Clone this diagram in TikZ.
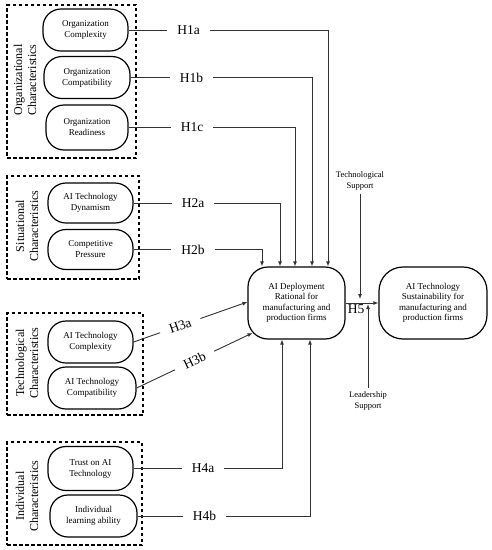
\documentclass[tikz,border=0pt]{standalone}
\usepackage{fontspec}
\setmainfont{Liberation Serif}
\usetikzlibrary{arrows.meta}

\begin{document}
\begin{tikzpicture}[x=1pt, y=-1pt, >={Latex[length=5pt,width=4pt]},
  factor/.style={draw=black, line width=1.2pt, rounded corners=18pt, minimum width=85pt, minimum height=42pt, align=center, inner sep=0pt, font=\fontsize{9}{11}\selectfont},
  outcome/.style={draw=black, line width=1.2pt, rounded corners=20pt, minimum width=97pt, minimum height=72pt, align=center, inner sep=0pt, font=\fontsize{9}{10.5}\selectfont},
  groupbox/.style={draw=black, line width=1.2pt, dash pattern=on 3.5pt off 2.5pt, inner sep=0pt},
  grouplabel/.style={rotate=90, align=center, font=\fontsize{12}{14}\selectfont},
  hyp/.style={text=black, inner xsep=10pt, inner ysep=1pt, font=\fontsize{13.5}{14}\selectfont},
  support/.style={align=center, font=\fontsize{8.5}{10.5}\selectfont},
  link/.style={line width=0.9pt, black!80}]
        \useasboundingbox (0,0) rectangle (492,550);

        \node[groupbox, minimum width=129pt, minimum height=153pt] (orgbox) at (71.5,81.5) {};
        \node[groupbox, minimum width=132pt, minimum height=103pt] (sitbox) at (73,227.5) {};
        \node[groupbox, minimum width=136pt, minimum height=102pt] (tecbox) at (75,364) {};
        \node[groupbox, minimum width=135pt, minimum height=103pt] (indbox) at (74.5,493.5) {};
        \node[grouplabel] (orglab) at (25,80) {Organizational\\Characteristics};
        \node[grouplabel] (sitlab) at (27,226) {Situational\\Characteristics};
        \node[grouplabel] (teclab) at (27,363) {Technological\\Characteristics};
        \node[grouplabel] (indlab) at (27,496) {Individual\\Characteristics};

        \node[factor] (orgcx) at (85.5,30) {Organization\\Complexity};
        \node[factor, minimum width=86pt] (orgcp) at (87,77.5) {Organization\\Compatibility};
        \node[factor, minimum width=82pt, minimum height=45pt] (orgrd) at (87,127.5) {Organization\\Readiness};
        \node[factor, minimum height=40pt] (aidyn) at (90.5,203) {AI Technology\\Dynamism};
        \node[factor, minimum height=40pt] (compp) at (90.5,249.5) {Competitive\\Pressure};
        \node[factor] (aicx) at (90.5,342) {AI Technology\\Complexity};
        \node[factor, minimum width=88pt] (aicp) at (92,388) {AI Technology\\Compatibility};
        \node[factor, minimum height=44pt] (trust) at (90.5,468.5) {Trust on AI\\Technology};
        \node[factor, minimum width=87pt] (learn) at (93.5,516) {Individual\\learning ability};

        \node[outcome] (dep) at (296.5,303) {AI Deployment\\Rational for\\manufacturing and\\production firms};
        \node[outcome, minimum width=108pt, rounded corners=24pt] (sus) at (433,303) {AI Technology\\Sustainability for\\manufacturing and\\production firms};

        \node[hyp] (h1a) at (188.5,30) {H1a};
        \node[hyp] (h1b) at (191.5,77.5) {H1b};
        \node[hyp] (h1c) at (192,127.5) {H1c};
        \node[hyp] (h2a) at (193,203) {H2a};
        \node[hyp] (h2b) at (193,249.5) {H2b};
        \node[hyp] (h4a) at (203,468.5) {H4a};
        \node[hyp] (h4b) at (204.5,516) {H4b};

        \node[support] (tsup) at (360,181) {Technological\\Support};
        \node[support] (lsup) at (368,401) {Leadership\\Support};

        \draw[link] (orgcx.east) -- (h1a.west);
        \draw[link, ->] (h1a.east) -| ([xshift=31.5pt]dep.north);
        \draw[link] (orgcp.east) -- (h1b.west);
        \draw[link, ->] (h1b.east) -| ([xshift=15.5pt]dep.north);
        \draw[link] (orgrd.east) -- (h1c.west);
        \draw[link, ->] (h1c.east) -| ([xshift=-1.5pt]dep.north);
        \draw[link] (aidyn.east) -- (h2a.west);
        \draw[link, ->] (h2a.east) -| ([xshift=-16.5pt]dep.north);
        \draw[link] (compp.east) -- (h2b.west);
        \draw[link, ->] (h2b.east) -| ([xshift=-34.5pt]dep.north);

        \draw[link, ->] (aicx.east) -- ([yshift=1pt]dep.west) node[pos=0.41, sloped, hyp, inner ysep=0pt, fill=white] (h3a) {H3a};
        \draw[link, ->] (aicp.east) -- ([shift={(-44,30)}]dep.center) node[pos=0.5, sloped, hyp, inner ysep=0pt, fill=white] (h3b) {H3b};

        \draw[link] (trust.east) -- (h4a.west);
        \draw[link, ->] (h4a.east) -| ([xshift=-14.5pt]dep.south);
        \draw[link] (learn.east) -- (h4b.west);
        \draw[link, ->] (h4b.east) -| ([xshift=13.5pt]dep.south);

        \draw[link, ->] (dep.east) -- (sus.west) node[pos=0.32, below, hyp, inner sep=1pt] (h5) {H5};
        \draw[link, ->, shorten >=4pt] (tsup.south) -- (tsup.south |- dep.east);
        \draw[link, ->, shorten >=1pt] (lsup.north) -- (lsup.north |- dep.east);
    \end{tikzpicture}
\end{document}
